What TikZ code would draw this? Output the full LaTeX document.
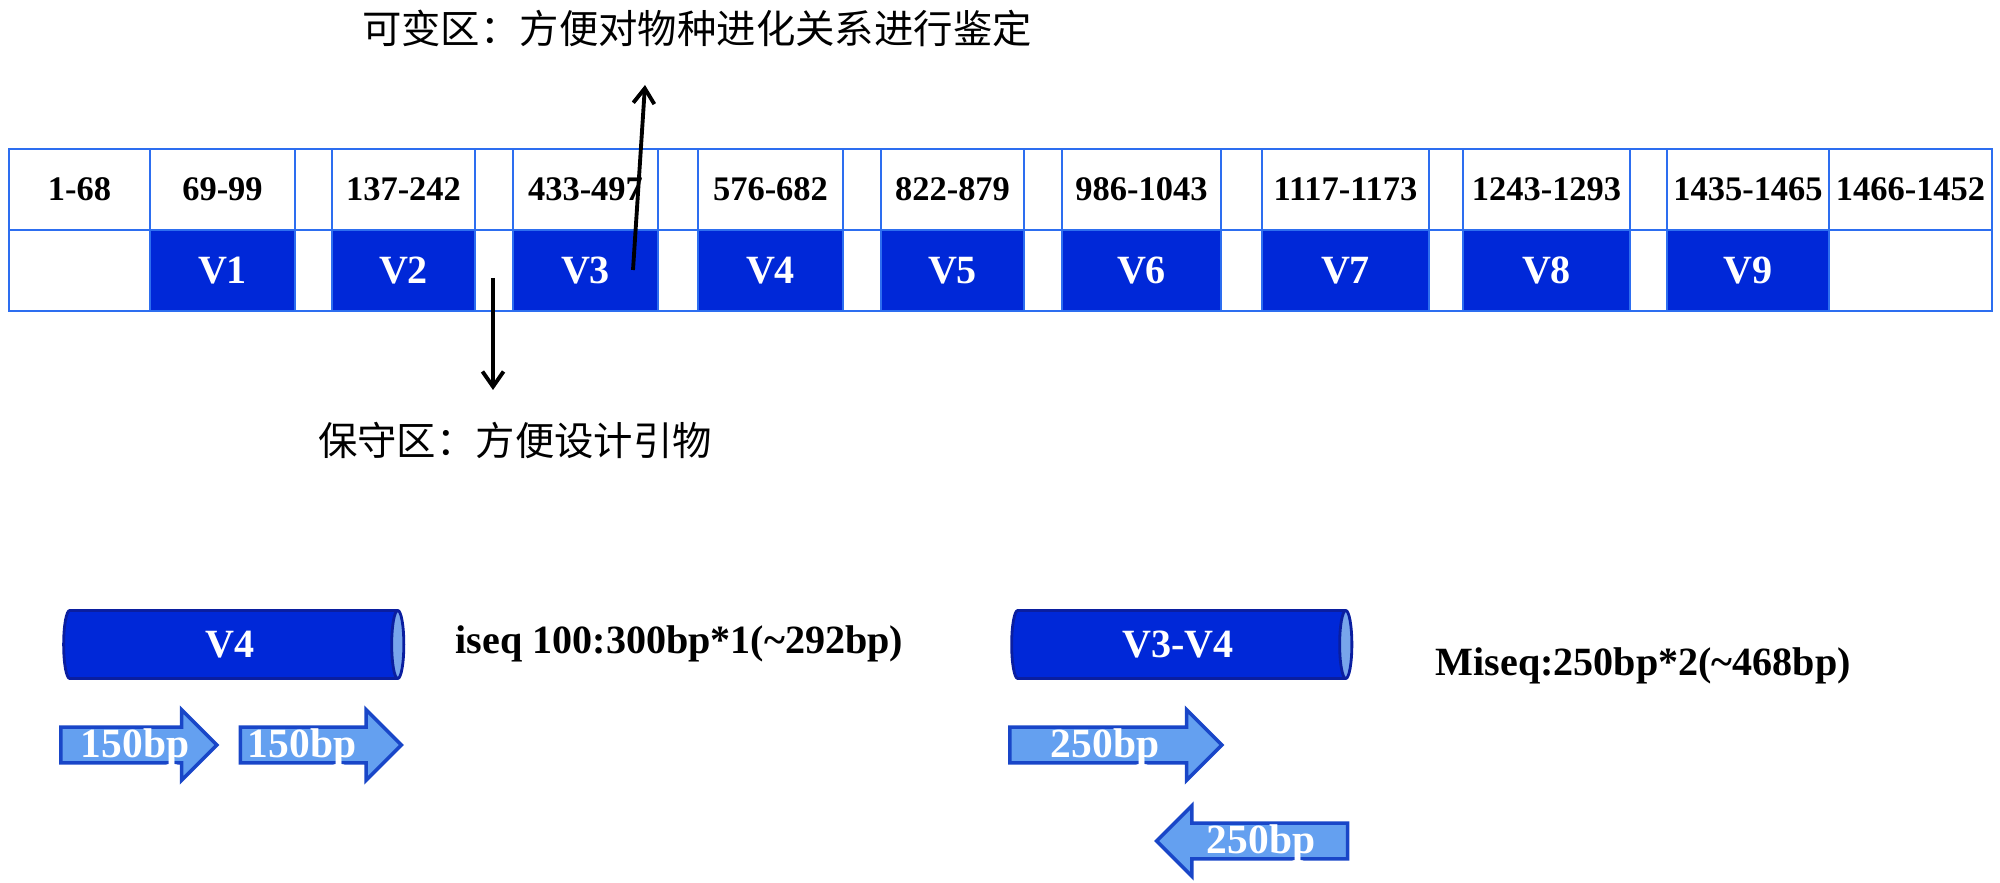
\documentclass[tikz,border=0pt]{standalone}
\usepackage{fontspec}
\setmainfont{Liberation Serif}
\newfontfamily\cjk{Noto Sans CJK SC}
\usetikzlibrary{shapes.geometric,shapes.arrows,arrows.meta}
\definecolor{vblue}{RGB}{0,40,216}
\definecolor{cellline}{RGB}{45,110,240}
\definecolor{readfill}{RGB}{100,160,240}
\definecolor{readline}{RGB}{25,70,200}
\definecolor{tubeline}{RGB}{10,30,160}
\definecolor{capfill}{RGB}{120,165,235}
\begin{document}
\begin{tikzpicture}[x=0.01cm,y=-0.01cm]
    \tikzset{cell/.style = {shape=rectangle,draw=cellline,line width=0.8pt,minimum height=0.81cm,inner sep=0pt,font=\fontsize{9.8}{11}\selectfont\bfseries},
      region/.style = {cell,text=white,font=\fontsize{11.4}{13}\selectfont\bfseries},
      seqtube/.style = {shape=cylinder,draw=tubeline,line width=0.8pt,cylinder uses custom fill,cylinder body fill=vblue,cylinder end fill=capfill,aspect=0.45,minimum height=3.4cm,minimum width=0.68cm,inner sep=0pt,text=white,font=\fontsize{11.4}{13}\selectfont\bfseries},
      readarrow/.style = {single arrow,draw=readline,fill=readfill,line width=1pt,inner sep=0pt,text height=0.16cm,text depth=0.16cm,single arrow head extend=0.175cm},
      readtext/.style = {text=white,inner sep=0pt,font=\fontsize{11.8}{13}\selectfont\bfseries},
      note/.style = {inner sep=0pt,font=\fontsize{11.2}{13}\cjk},
      info/.style = {anchor=west,inner sep=0pt,font=\fontsize{11.4}{13}\selectfont\bfseries},
      pointer/.style = {line width=1.1pt,-{Straight Barb[length=4.3pt,width=6pt]}}}
    \useasboundingbox (0,0) rectangle (2000,883);
    \foreach \xa/\xb/\num/\reg/\fc [count=\i] in {9/150/1-68//white, 150/295/69-99/V1/vblue, 295/332///white,
        332/475/137-242/V2/vblue, 475/513///white, 513/658/433-497/V3/vblue, 658/698///white,
        698/843/576-682/V4/vblue, 843/881///white, 881/1024/822-879/V5/vblue, 1024/1062///white,
        1062/1221/986-1043/V6/vblue, 1221/1262///white, 1262/1429/1117-1173/V7/vblue, 1429/1463///white,
        1463/1630/1243-1293/V8/vblue, 1630/1667///white, 1667/1829/1435-1465/V9/vblue, 1829/1992/1466-1452//white}{
      \node[cell,fill=white,minimum width={(\xb-\xa)*0.01cm}] (n\i) at ({(\xa+\xb)/2},189.5) {\num};
      \node[region,fill=\fc,minimum width={(\xb-\xa)*0.01cm}] (r\i) at ({(\xa+\xb)/2},270.5) {\reg};
    }
    \node[note] (varnote) at (697,28) {可变区：方便对物种进化关系进行鉴定};
    \node[note] (connote) at (515,440) {保守区：方便设计引物};
    \coordinate (upstart) at (633,270);
    \coordinate (uptip) at (645,85);
    \coordinate (downstart) at (493,278);
    \coordinate (downtip) at (493,390);
    \draw[pointer] (upstart) -- (uptip);
    \draw[pointer] (downstart) -- (downtip);
    \node[seqtube] (tube1) at (230,644.5) {V4};
    \node[seqtube] (tube2) at (1178,644.5) {V3-V4};
    \node[info] (iseq) at (455,644) {iseq 100:300bp*1(\textasciitilde 292bp)};
    \node[info] (miseq) at (1435,666) {Miseq:250bp*2(\textasciitilde 468bp)};
    \node[readarrow,minimum height=1.56cm] (read1) at (130,745) {};
    \node[readarrow,minimum height=1.61cm] (read2) at (312,745) {};
    \node[readarrow,minimum height=2.12cm] (read3) at (1107,745) {};
    \node[readarrow,minimum height=1.91cm,shape border rotate=180] (read4) at (1261,841) {};
    \node[readtext] (lab1) at (135,748) {150bp};
    \node[readtext] (lab2) at (302,748) {150bp};
    \node[readtext] (lab3) at (1105,748) {250bp};
    \node[readtext] (lab4) at (1261,844) {250bp};
\end{tikzpicture}
\end{document}
